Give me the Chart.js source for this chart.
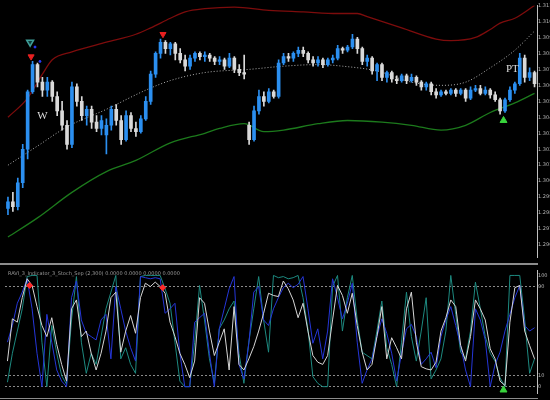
<!DOCTYPE html>
<html>
<head>
<meta charset="utf-8">
<script src="https://cdn.jsdelivr.net/npm/chart.js@4.4.1/dist/chart.umd.min.js"></script>
<style>
  html, body { margin: 0; padding: 0; background: #000; }
  #wrap { position: relative; width: 550px; height: 400px; overflow: hidden; background: #000; }
  #priceBox { position: absolute; left: 0; top: 0; width: 550px; height: 263px; }
  #oscBox { position: absolute; left: 0; top: 265px; width: 550px; height: 133px; }
  .sep { position: absolute; left: 0; width: 538px; background: #8c8c8c; }
</style>
</head>
<body>
<div id="wrap">
  <div id="priceBox"><canvas id="price-chart"></canvas></div>
  <div class="sep" style="top:263px;height:2px;"></div>
  <div id="oscBox"><canvas id="osc-chart"></canvas></div>
  <div class="sep" style="top:398px;height:1px;"></div>
</div>
<script>
// ============================================
// DATA (bar index 0..107, left to right)
// ============================================

const opens = [
  1.2983, 1.2987, 1.2984, 1.2999, 1.3020, 1.3056, 1.3073, 1.3062, 1.3057, 1.3062,
  1.3053, 1.3044, 1.3035, 1.3023, 1.3059, 1.3050, 1.3041, 1.3045, 1.3037, 1.3033,
  1.3029, 1.3035, 1.3045, 1.3038, 1.3026, 1.3041, 1.3033, 1.3031, 1.3039, 1.3050,
  1.3067, 1.3080, 1.3087, 1.3083, 1.3086, 1.3080, 1.3076, 1.3072, 1.3077, 1.3080,
  1.3078, 1.3079, 1.3077, 1.3075, 1.3076, 1.3072, 1.3077, 1.3070, 1.3068, 1.3035,
  1.3026, 1.3044, 1.3053, 1.3050, 1.3056, 1.3053, 1.3074, 1.3078, 1.3077, 1.3080,
  1.3082, 1.3080, 1.3076, 1.3074, 1.3076, 1.3073, 1.3076, 1.3077, 1.3083, 1.3082,
  1.3084, 1.3089, 1.3083, 1.3075, 1.3077, 1.3069, 1.3073, 1.3065, 1.3068, 1.3064,
  1.3063, 1.3066, 1.3063, 1.3065, 1.3062, 1.3059, 1.3061, 1.3056, 1.3054, 1.3056,
  1.3055, 1.3057, 1.3055, 1.3057, 1.3052, 1.3057, 1.3058, 1.3055, 1.3057, 1.3054,
  1.3051, 1.3044, 1.3051, 1.3057, 1.3061, 1.3077, 1.3065, 1.3068
];
const highs = [
  1.2990, 1.2993, 1.3002, 1.3023, 1.3057, 1.3075, 1.3074, 1.3065, 1.3065, 1.3063,
  1.3056, 1.3050, 1.3038, 1.3062, 1.3061, 1.3053, 1.3047, 1.3047, 1.3041, 1.3041,
  1.3039, 1.3047, 1.3048, 1.3041, 1.3044, 1.3043, 1.3037, 1.3041, 1.3053, 1.3069,
  1.3081, 1.3089, 1.3088, 1.3087, 1.3087, 1.3083, 1.3079, 1.3079, 1.3081, 1.3081,
  1.3081, 1.3080, 1.3078, 1.3078, 1.3077, 1.3080, 1.3078, 1.3073, 1.3079, 1.3037,
  1.3047, 1.3057, 1.3056, 1.3058, 1.3057, 1.3076, 1.3080, 1.3080, 1.3081, 1.3084,
  1.3084, 1.3081, 1.3078, 1.3078, 1.3077, 1.3077, 1.3079, 1.3085, 1.3084, 1.3085,
  1.3092, 1.3090, 1.3084, 1.3079, 1.3078, 1.3074, 1.3074, 1.3069, 1.3069, 1.3066,
  1.3067, 1.3067, 1.3067, 1.3066, 1.3063, 1.3062, 1.3062, 1.3058, 1.3057, 1.3057,
  1.3058, 1.3058, 1.3058, 1.3058, 1.3059, 1.3060, 1.3060, 1.3059, 1.3058, 1.3056,
  1.3052, 1.3052, 1.3059, 1.3062, 1.3080, 1.3079, 1.3071, 1.3069
];
const lows = [
  1.2979, 1.2981, 1.2982, 1.2996, 1.3014, 1.3055, 1.3059, 1.3053, 1.3053, 1.3050,
  1.3041, 1.3032, 1.3020, 1.3021, 1.3047, 1.3038, 1.3035, 1.3033, 1.3031, 1.3029,
  1.3017, 1.3032, 1.3035, 1.3023, 1.3025, 1.3031, 1.3028, 1.3030, 1.3038, 1.3048,
  1.3065, 1.3077, 1.3080, 1.3079, 1.3076, 1.3074, 1.3069, 1.3070, 1.3075, 1.3076,
  1.3075, 1.3075, 1.3073, 1.3073, 1.3070, 1.3071, 1.3068, 1.3066, 1.3064, 1.3023,
  1.3025, 1.3042, 1.3047, 1.3049, 1.3052, 1.3052, 1.3073, 1.3075, 1.3075, 1.3078,
  1.3078, 1.3074, 1.3072, 1.3072, 1.3071, 1.3072, 1.3074, 1.3076, 1.3080, 1.3081,
  1.3083, 1.3080, 1.3073, 1.3072, 1.3067, 1.3063, 1.3063, 1.3062, 1.3062, 1.3061,
  1.3062, 1.3061, 1.3062, 1.3060, 1.3057, 1.3057, 1.3054, 1.3052, 1.3053, 1.3054,
  1.3054, 1.3053, 1.3054, 1.3050, 1.3051, 1.3056, 1.3054, 1.3054, 1.3052, 1.3050,
  1.3042, 1.3043, 1.3050, 1.3055, 1.3060, 1.3062, 1.3063, 1.3059
];
const closes = [
  1.2987, 1.2984, 1.2999, 1.3020, 1.3056, 1.3073, 1.3062, 1.3057, 1.3062, 1.3053,
  1.3044, 1.3035, 1.3023, 1.3059, 1.3050, 1.3041, 1.3045, 1.3037, 1.3033, 1.3038,
  1.3035, 1.3045, 1.3038, 1.3026, 1.3041, 1.3033, 1.3031, 1.3039, 1.3050, 1.3067,
  1.3080, 1.3087, 1.3083, 1.3086, 1.3080, 1.3076, 1.3072, 1.3077, 1.3080, 1.3078,
  1.3079, 1.3077, 1.3075, 1.3076, 1.3072, 1.3077, 1.3070, 1.3068, 1.3067, 1.3026,
  1.3044, 1.3053, 1.3050, 1.3056, 1.3053, 1.3074, 1.3078, 1.3077, 1.3080, 1.3082,
  1.3080, 1.3076, 1.3074, 1.3076, 1.3073, 1.3076, 1.3077, 1.3083, 1.3082, 1.3084,
  1.3089, 1.3083, 1.3075, 1.3077, 1.3069, 1.3073, 1.3065, 1.3068, 1.3064, 1.3063,
  1.3066, 1.3063, 1.3065, 1.3062, 1.3059, 1.3061, 1.3056, 1.3054, 1.3056, 1.3055,
  1.3057, 1.3055, 1.3057, 1.3052, 1.3057, 1.3058, 1.3055, 1.3057, 1.3054, 1.3051,
  1.3044, 1.3051, 1.3057, 1.3061, 1.3077, 1.3065, 1.3068, 1.3061
];

// Envelope bands (bar index -> value)
const upperBandBars = [0, 4, 7, 9, 13, 20, 26, 29, 33, 36, 40, 46, 53, 60, 67, 71, 73, 80, 87, 90, 95, 98, 100, 103, 107];
const upperBand = [1.3040, 1.3052, 1.3067, 1.3076, 1.3081, 1.3087, 1.3092, 1.3096, 1.3102, 1.3106, 1.3108, 1.3109, 1.3107,
                   1.3106, 1.3105, 1.3105, 1.3103, 1.3096, 1.3089, 1.3088, 1.3090, 1.3095, 1.3099, 1.3102, 1.3110];

const midBandBars = [0, 6, 12, 20, 28, 33, 40, 49, 56, 63, 68, 75, 82, 88, 93, 98, 103, 107];
const midBand = [1.3010, 1.3022, 1.3034, 1.3045, 1.3057, 1.3063, 1.3068, 1.3070, 1.3072, 1.3073, 1.3072, 1.3069,
                 1.3062, 1.3060, 1.3062, 1.3071, 1.3082, 1.3094];

const lowerBandBars = [0, 6, 13, 20, 26, 33, 40, 43, 48, 52, 56, 63, 69, 76, 82, 88, 93, 98, 103, 107];
const lowerBand = [1.2965, 1.2977, 1.2993, 1.3006, 1.3013, 1.3024, 1.3030, 1.3033, 1.3036, 1.3031, 1.3032, 1.3036,
                   1.3038, 1.3037, 1.3035, 1.3032, 1.3035, 1.3043, 1.3049, 1.3055];

// Signal arrows on the price panel
const sellArrows = [{ x: 4.7, y: 1.3078 }, { x: 31.5, y: 1.3092 }];
const outlineArrows = [{ x: 4.5, y: 1.3087 }];
const buyArrows = [{ x: 100.7, y: 1.3038 }];
const blueDots = [{ x: 5.5, y: 1.3084 }, { x: 6.5, y: 1.3075 }];
const priceLabels = [
  { text: 'W', x: 7, y: 1.3041 },
  { text: 'PT', x: 102.5, y: 1.3070 }
];

// Oscillator panel (0..100)
const oscFast = [
  4, 30, 50, 70, 99, 100, 100, 40, 0, 55,
  30, 10, 2, 60, 99, 40, 12, 30, 20, 45,
  70, 85, 100, 25, 35, 20, 12, 99, 100, 100,
  100, 100, 88, 75, 40, 5, 0, 0, 40, 91,
  60, 25, 3, 52, 60, 70, 77, 30, 3, 40,
  70, 99, 60, 31, 100, 98, 99, 97, 98, 100,
  80, 52, 9, 3, 0, 0, 90, 100, 50, 80,
  100, 60, 31, 28, 25, 50, 77, 35, 20, 0,
  40, 85, 45, 23, 50, 80, 7, 15, 25, 50,
  100, 65, 31, 25, 50, 94, 70, 45, 30, 23,
  8, 0, 100, 100, 100, 60, 12, 25
];
const oscMid = [
  40, 55, 75, 85, 97, 70, 30, 0, 65, 40,
  15, 5, 0, 80, 95, 60, 48, 45, 42, 60,
  65, 25, 90, 70, 50, 35, 23, 99, 98, 97,
  98, 97, 66, 70, 75, 30, 0, 0, 58, 62,
  66, 30, 0, 52, 70, 88, 99, 20, 7, 39,
  85, 90, 60, 55, 70, 80, 89, 93, 89, 92,
  99, 70, 39, 52, 25, 50, 97, 80, 61, 75,
  93, 40, 3, 15, 25, 45, 61, 48, 30, 5,
  30, 52, 56, 45, 20, 25, 31, 17, 45, 60,
  72, 55, 37, 15, 0, 70, 60, 42, 0, 20,
  31, 50, 65, 80, 91, 55, 50, 53
];
const oscSlow = [
  23, 61, 58, 80, 97, 91, 72, 55, 45, 62,
  38, 20, 5, 70, 78, 45, 50, 30, 15, 30,
  50, 80, 85, 31, 50, 64, 48, 80, 93, 90,
  94, 90, 84, 58, 45, 30, 20, 8, 23, 80,
  75, 50, 28, 40, 52, 15, 72, 20, 15, 25,
  36, 50, 66, 84, 82, 81, 95, 88, 78, 62,
  75, 50, 28, 22, 20, 28, 60, 91, 82, 66,
  84, 55, 31, 15, 20, 45, 72, 25, 44, 35,
  25, 70, 85, 40, 18, 16, 15, 22, 50, 62,
  78, 72, 37, 23, 45, 78, 70, 60, 34, 25,
  5, 1, 58, 89, 91, 50, 37, 25
];
const oscTicks = [0, 10, 90, 100];
const oscSellMarks = [{ x: 4.5, y: 91 }, { x: 31.5, y: 89 }];
const oscBuyMarks = [{ x: 100.7, y: -3 }];
const oscTitle = 'RAVI_3_Indicator_3_Stoch_Sep (2,300) 0.0000 0.0000 0.0000 0.0000';

// ============================================
// CHARTS
// ============================================

const bullColor = '#2b8ff0';
const bearColor = '#d9d9d9';
const candleColors = opens.map((o, i) => closes[i] >= o ? bullColor : bearColor);

function barAxis() {
    return { type: 'linear', min: -0.5, max: opens.length - 0.5, offset: false, display: false };
}

function pointsFrom(bars, values) {
    return bars.map((b, k) => ({ x: b, y: values[k] }));
}

// Draw small text marks at data coordinates
const priceTextPlugin = {
    id: 'priceText',
    afterDatasetsDraw(chart) {
        const ctx = chart.ctx;
        ctx.save();
        ctx.fillStyle = '#dcdcdc';
        ctx.font = '11px "Liberation Serif", serif';
        ctx.textAlign = 'center';
        ctx.textBaseline = 'middle';
        priceLabels.forEach(l => {
            ctx.fillText(l.text, chart.scales.x.getPixelForValue(l.x), chart.scales.y.getPixelForValue(l.y));
        });
        ctx.restore();
    }
};

const oscTextPlugin = {
    id: 'oscText',
    afterDraw(chart) {
        const ctx = chart.ctx;
        ctx.save();
        ctx.fillStyle = '#9a9a9a';
        ctx.font = '5px "DejaVu Sans", sans-serif';
        ctx.textBaseline = 'top';
        ctx.fillText(oscTitle, chart.chartArea.left + 3, chart.chartArea.top + 1);
        ctx.restore();
    }
};

const tickFont = { size: 5, family: '"DejaVu Sans", sans-serif' };

new Chart(document.getElementById('price-chart'), {
    data: {
        datasets: [
            {
                type: 'line', data: pointsFrom(upperBandBars, upperBand),
                borderColor: '#7d0c0c', borderWidth: 1.3, pointRadius: 0,
                cubicInterpolationMode: 'monotone', order: 5
            },
            {
                type: 'line', data: pointsFrom(midBandBars, midBand),
                borderColor: '#b0b0b0', borderWidth: 1, borderDash: [1, 2], pointRadius: 0,
                cubicInterpolationMode: 'monotone', order: 5
            },
            {
                type: 'line', data: pointsFrom(lowerBandBars, lowerBand),
                borderColor: '#1c7a1c', borderWidth: 1.3, pointRadius: 0,
                cubicInterpolationMode: 'monotone', order: 5
            },
            {
                type: 'bar', grouped: false, order: 3,
                data: opens.map((o, i) => ({ x: i, y: [lows[i], highs[i]] })),
                backgroundColor: candleColors, barThickness: 1
            },
            {
                type: 'bar', grouped: false, order: 2,
                data: opens.map((o, i) => ({ x: i, y: [o, closes[i]] })),
                backgroundColor: candleColors, barThickness: 3, minBarLength: 1
            },
            {
                type: 'line', showLine: false, data: sellArrows, order: 0, clip: false,
                pointStyle: 'triangle', rotation: 180, pointRadius: 3.5,
                backgroundColor: '#e82020', borderColor: '#e82020'
            },
            {
                type: 'line', showLine: false, data: outlineArrows, order: 0, clip: false,
                pointStyle: 'triangle', rotation: 180, pointRadius: 4, borderWidth: 1.5,
                backgroundColor: '#0d3b3b', borderColor: '#3f9f9a'
            },
            {
                type: 'line', showLine: false, data: buyArrows, order: 0, clip: false,
                pointStyle: 'triangle', rotation: 0, pointRadius: 4,
                backgroundColor: '#39d43c', borderColor: '#39d43c'
            },
            {
                type: 'line', showLine: false, data: blueDots, order: 0,
                pointRadius: 1, backgroundColor: '#2a3cff', borderColor: '#2a3cff'
            }
        ]
    },
    options: {
        responsive: true,
        maintainAspectRatio: false,
        animation: false,
        layout: { padding: 0 },
        plugins: { legend: { display: false }, tooltip: { enabled: false } },
        scales: {
            x: barAxis(),
            y: {
                position: 'right',
                min: 1.29522,
                max: 1.3110,
                afterFit: s => { s.width = 13; },
                grid: { display: false, drawTicks: false },
                border: { color: '#c0c0c0', width: 1 },
                ticks: {
                    stepSize: 0.001, includeBounds: false, padding: 1,
                    color: '#b5b5b5', font: tickFont,
                    callback: v => v.toFixed(4)
                }
            }
        }
    },
    plugins: [priceTextPlugin]
});

const oscIndex = oscSlow.map((v, i) => i);

new Chart(document.getElementById('osc-chart'), {
    type: 'line',
    data: {
        datasets: [
            {
                data: oscIndex.map(i => ({ x: i, y: oscFast[i] })),
                borderColor: '#1d8a80', borderWidth: 1, pointRadius: 0, order: 3
            },
            {
                data: oscIndex.map(i => ({ x: i, y: oscMid[i] })),
                borderColor: '#2536d8', borderWidth: 1, pointRadius: 0, order: 2
            },
            {
                data: oscIndex.map(i => ({ x: i, y: oscSlow[i] })),
                borderColor: '#d6d6d6', borderWidth: 1, pointRadius: 0, order: 1
            },
            {
                showLine: false, data: oscSellMarks, order: 0, clip: false,
                pointStyle: 'rectRot', pointRadius: 3,
                backgroundColor: '#ff2a2a', borderColor: '#ff2a2a'
            },
            {
                showLine: false, data: oscBuyMarks, order: 0, clip: false,
                pointStyle: 'triangle', pointRadius: 4,
                backgroundColor: '#39d43c', borderColor: '#39d43c'
            }
        ]
    },
    options: {
        responsive: true,
        maintainAspectRatio: false,
        animation: false,
        layout: { padding: 0 },
        plugins: { legend: { display: false }, tooltip: { enabled: false } },
        scales: {
            x: barAxis(),
            y: {
                position: 'right',
                min: -5.7,
                max: 104.9,
                afterFit: s => { s.width = 13; },
                afterBuildTicks: axis => { axis.ticks = oscTicks.map(v => ({ value: v })); },
                grid: {
                    drawTicks: false,
                    color: ctx => ctx.tick && ctx.tick.value === 100 ? 'rgba(0,0,0,0)' : '#8a8a8a'
                },
                border: { color: '#c0c0c0', width: 1, dash: [2, 2] },
                ticks: { padding: 1, color: '#b5b5b5', font: tickFont }
            }
        }
    },
    plugins: [oscTextPlugin]
});
</script>
</body>
</html>
